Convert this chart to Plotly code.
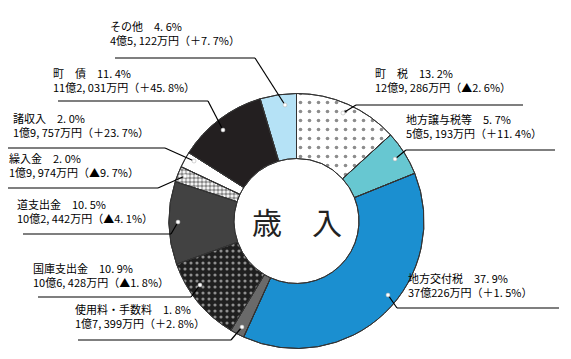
import plotly.graph_objects as go

W, H = 571, 359

# ---- data ----
categories = ["町　税", "地方譲与税等", "地方交付税", "使用料・手数料", "国庫支出金",
              "道支出金", "繰入金", "諸収入", "町　債", "その他"]
shares = [13.2, 5.7, 37.9, 1.8, 10.9, 10.5, 2.0, 2.0, 11.4, 4.6]
amounts = ["12億9, 286万円", "5億5, 193万円", "37億226万円", "1億7, 399万円", "10億6, 428万円",
           "10億2, 442万円", "1億9, 974万円", "1億9, 757万円", "11億2, 031万円", "4億5, 122万円"]
changes = ["▲2. 6%", "＋11. 4%", "＋1. 5%", "＋2. 8%", "▲1. 8%",
           "▲4. 1%", "▲9. 7%", "＋23. 7%", "＋45. 8%", "＋7. 7%"]
center_title = "歳　入"

# ---- styles ----
fill_colors = ["#ffffff", "#67c7d1", "#1b8fd0", "#6a6a6a", "#1f1f1f",
               "#424242", "#ffffff", "#ffffff", "#231f20", "#b5e2f6"]
# pattern overlays: (slice index, fg colour, size, solidity)
pattern_layers = [(0, "#1a1a1a", 9, 0.13), (4, "#ffffff", 6, 0.22), (6, "#1a1a1a", 4, 0.62)]

# pie geometry (pixels)
CX, CY, R = 288.5, 213, 127.5

# label layout: text left x, text block centre y, underline (x0, x1, y), anchor on ring (x, y)
label_layout = [
    (375, 79, 348, 515, 97, 335, 105),
    (406, 125, 398, 547, 142, 387, 151),
    (408, 284, 389, 551, 300, 380, 287),
    (75, 315, 70, 223, 332, 234, 319),
    (33, 274, 30, 183, 289, 192, 277),
    (17, 210, 15, 163, 226, 170, 214),
    (9, 164, 0, 150, 180, 177, 168),
    (13, 124, 0, 157, 140, 186, 153),
    (53, 79, 50, 200, 93, 215, 122),
    (110, 32, 107, 247, 50, 277, 97),
]
right_side = [True, True, True, False, False, False, False, False, False, False]
TX_SHIFT, TY_SHIFT = -9, -7


def px(x, y):
    return x / W, 1 - y / H


domain = dict(x=[(CX - R) / W, (CX + R) / W], y=[(H - CY - R) / H, (H - CY + R) / H])
pie_common = dict(labels=categories, values=shares, sort=False, direction="clockwise",
                  rotation=0, hole=0.49, textinfo="none", showlegend=False, domain=domain)

fig = go.Figure()
fig.add_trace(go.Pie(
    **pie_common,
    hoverinfo="label+percent",
    marker=dict(colors=fill_colors, line=dict(color="#333333", width=1)),
))
for idx, fg, size, solid in pattern_layers:
    shapes_arr = ["." if k == idx else "" for k in range(len(categories))]
    fig.add_trace(go.Pie(
        **pie_common,
        hoverinfo="skip",
        marker=dict(colors=["rgba(0,0,0,0)"] * len(categories),
                    line=dict(color="rgba(0,0,0,0)", width=0),
                    pattern=dict(shape=shapes_arr, fgcolor=fg, size=size,
                                 solidity=solid, fillmode="overlay")),
    ))
# redraw borders on top
fig.add_trace(go.Pie(
    **pie_common,
    hoverinfo="skip",
    marker=dict(colors=["rgba(0,0,0,0)"] * len(categories), line=dict(color="#333333", width=1)),
))

shapes = []
annotations = []
for i, cat in enumerate(categories):
    tx, ty, ux0, ux1, uy, axp, ayp = label_layout[i]
    pct = f"{shares[i]:.1f}".replace(".", ". ")
    line1 = f"{cat}　{pct}%"
    line2 = f"{amounts[i]}（{changes[i]}）"
    annotations.append(dict(
        x=(tx + TX_SHIFT) / W, y=1 - (ty + TY_SHIFT) / H, xref="paper", yref="paper",
        xanchor="left", yanchor="middle", align="left", showarrow=False,
        borderpad=0,
        text=f"{line1}<br>{line2}",
        font=dict(family="Noto Sans CJK JP", size=11, color="#000000"),
    ))
    elbow_x = ux0 if right_side[i] else ux1
    x0, y0 = px(ux0, uy)
    x1, y1 = px(ux1, uy)
    ex, ey = px(elbow_x, uy)
    ax_, ay_ = px(axp, ayp)
    shapes.append(dict(type="line", xref="paper", yref="paper", x0=x0, y0=y0, x1=x1, y1=y1,
                       line=dict(color="#000000", width=1.2)))
    shapes.append(dict(type="line", xref="paper", yref="paper", x0=ex, y0=ey, x1=ax_, y1=ay_,
                       line=dict(color="#000000", width=1.2)))
    shapes.append(dict(type="circle", xref="paper", yref="paper",
                       x0=(axp - 2) / W, x1=(axp + 2) / W, y0=1 - (ayp + 2) / H, y1=1 - (ayp - 2) / H,
                       fillcolor="#ffffff", line=dict(color="#aaaaaa", width=0.5)))

annotations.append(dict(
    x=CX / W, y=1 - CY / H, xref="paper", yref="paper", showarrow=False,
    text=center_title, font=dict(family="Noto Sans CJK JP", size=30, color="#222222"),
))

fig.update_layout(
    width=W, height=H,
    margin=dict(l=0, r=0, t=0, b=0),
    paper_bgcolor="#ffffff", plot_bgcolor="#ffffff",
    shapes=shapes, annotations=annotations,
)

fig.write_html("out.html")
